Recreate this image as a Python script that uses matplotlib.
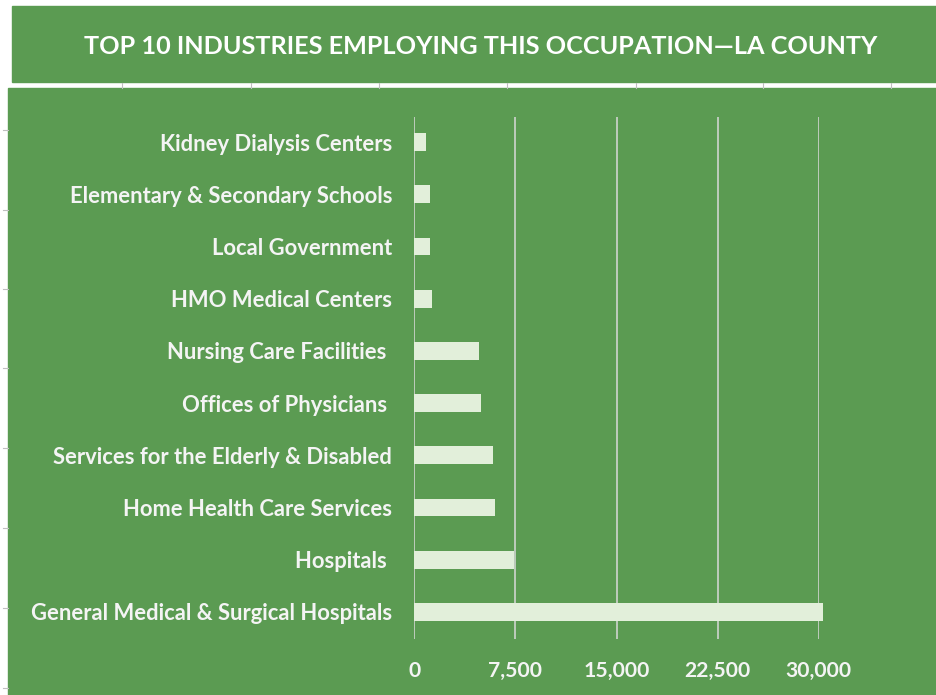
import matplotlib
matplotlib.use("Agg")
import matplotlib.pyplot as plt
from matplotlib.patches import Rectangle
from matplotlib.lines import Line2D

# données (de haut en bas dans le graphique)
industries = [
    "Kidney Dialysis Centers",
    "Elementary & Secondary Schools",
    "Local Government",
    "HMO Medical Centers",
    "Nursing Care Facilities ",
    "Offices of Physicians ",
    "Services for the Elderly & Disabled",
    "Home Health Care Services",
    "Hospitals ",
    "General Medical & Surgical Hospitals",
]
employment = [840, 1130, 1130, 1310, 4810, 4960, 5850, 6000, 7430, 30330]
xticks = [0, 7500, 15000, 22500, 30000]
xtick_labels = ["0", "7,500", "15,000", "22,500", "30,000"]
title = "TOP 10 INDUSTRIES EMPLOYING THIS OCCUPATION\u2014LA COUNTY"

green = "#5B9B52"
bar_color = "#E2EFDA"
grid_color = "#D9D9D9"
text_color = "#F4F4F4"

plt.rcParams["font.family"] = ["Lato", "DejaVu Sans"]

W, H = 936, 695
fig = plt.figure(figsize=(W / 100, H / 100), dpi=100)
fig.patch.set_facecolor("white")

# bandeau du titre et panneau du graphique (derrière les axes)
fig.patches.append(Rectangle((12 / W, 1 - 82 / H), 1 - 12 / W, 76 / H,
                             transform=fig.transFigure, color=green, zorder=-2))
fig.patches.append(Rectangle((8 / W, 0), 1 - 8 / W, 1 - 88 / H,
                             transform=fig.transFigure, color=green, zorder=-2))

# petites graduations de la feuille de calcul
for px in [122, 251, 379, 507, 636, 763, 891]:
    fig.lines.append(Line2D([px / W, px / W], [1 - 83 / H, 1 - 88 / H],
                            transform=fig.transFigure, color="#BFBFBF", lw=0.8, zorder=-1))
for py in [130, 210, 289, 368, 448, 528, 608, 688]:
    fig.lines.append(Line2D([3 / W, 8 / W], [1 - py / H, 1 - py / H],
                            transform=fig.transFigure, color="#BFBFBF", lw=0.8, zorder=-1))

fig.text(481 / W, 1 - 47 / H, title, ha="center", va="center",
         color="white", fontsize=18.2, fontweight="bold")

ax = fig.add_axes([414.3 / W, 56 / H, 404.4 / W, 522 / H])
ax.set_facecolor("none")

pos = list(range(len(industries)))[::-1]
ax.barh(pos, employment, height=0.34, color=bar_color, zorder=3, clip_on=False)

ax.set_xlim(0, 30000)
ax.set_ylim(-0.52, 9.48)
ax.set_xticks(xticks)
ax.set_xticklabels(xtick_labels)
ax.set_yticks(pos)
ax.set_yticklabels(industries)

ax.grid(axis="x", color=grid_color, lw=1.1, zorder=1)
ax.tick_params(length=0, colors=text_color)
ax.tick_params(axis="y", pad=16, labelsize=15.8)
ax.tick_params(axis="x", pad=16, labelsize=15.2)
for lab in ax.get_xticklabels() + ax.get_yticklabels():
    lab.set_fontweight("bold")
for s in ax.spines.values():
    s.set_visible(False)

fig.savefig("out.png", dpi=100)
